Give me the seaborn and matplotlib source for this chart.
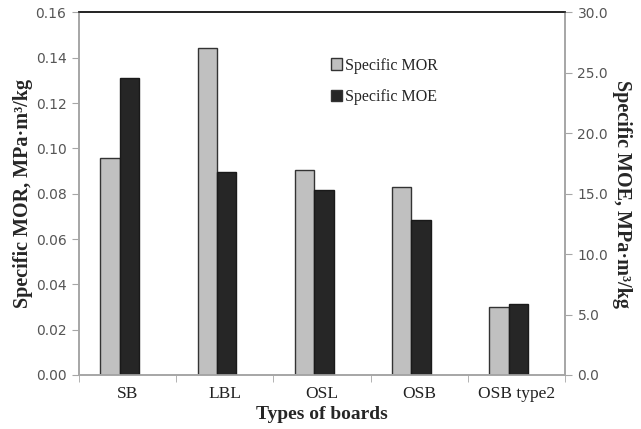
import matplotlib
matplotlib.use("Agg")
import matplotlib.pyplot as plt
import matplotlib.ticker as mticker
from matplotlib.patches import Patch
import pandas as pd
import seaborn as sns

boards = ["SB", "LBL", "OSL", "OSB", "OSB type2"]
spec_mor = [0.0959, 0.1442, 0.0903, 0.0828, 0.0300]
spec_moe = [24.6, 16.8, 15.3, 12.8, 5.9]
series = ["Specific MOR", "Specific MOE"]
colors = ["#c0c0c0", "#262626"]

df = pd.DataFrame({
	"board": boards * 2,
	"series": [series[0]] * len(boards) + [series[1]] * len(boards),
	"value": spec_mor + spec_moe,
})

sns.set_style("white")
serif = "Liberation Serif"
axis_grey = "#a6a6a6"

fig = plt.figure(figsize=(6.41, 4.29), dpi=100)
ax = fig.add_axes([0.1232, 0.1259, 0.8814 - 0.1232, 0.9709 - 0.1259])
ax2 = ax.twinx()

pal = dict(zip(series, colors))
sns.barplot(data=df[df.series == series[0]], x="board", y="value", hue="series",
	hue_order=series, palette=pal, order=boards, width=0.4, gap=0, dodge=True,
	edgecolor="#333333", linewidth=1, legend=False, ax=ax)
sns.barplot(data=df[df.series == series[1]], x="board", y="value", hue="series",
	hue_order=series, palette=pal, order=boards, width=0.4, gap=0, dodge=True,
	edgecolor="#1a1a1a", linewidth=1, legend=False, ax=ax2)

# bar groups sit a little left of the category centres (Excel-style)
shift = 0.08
ax.set_xlim(-0.5 + shift, len(boards) - 0.5 + shift)
ax.set_ylim(0, 0.16)
ax2.set_ylim(0, 30)
ax.yaxis.set_major_locator(mticker.MultipleLocator(0.02))
ax.yaxis.set_major_formatter(mticker.FormatStrFormatter("%.2f"))
ax2.yaxis.set_major_locator(mticker.MultipleLocator(5))
ax2.yaxis.set_major_formatter(mticker.FormatStrFormatter("%.1f"))

# spines
for a in (ax, ax2):
	for s in ("left", "right", "bottom"):
		a.spines[s].set_color(axis_grey)
		a.spines[s].set_linewidth(1.2)
	a.spines["top"].set_color("#222222")
	a.spines["top"].set_linewidth(1.2)

# ticks
ax.tick_params(axis="y", left=True, length=5, color=axis_grey, labelsize=10, labelcolor="#555555", pad=4)
ax2.tick_params(axis="y", right=True, length=5, color=axis_grey, labelsize=10, labelcolor="#555555", pad=4)
ax.set_xticks([i + shift for i in range(len(boards))])
ax.set_xticklabels(boards, fontfamily=serif, fontsize=12.5, color="#222222")
ax.xaxis.set_minor_locator(mticker.FixedLocator([i - 0.5 + shift for i in range(len(boards) + 1)]))
ax.tick_params(axis="x", which="major", length=0, pad=8)
ax.tick_params(axis="x", which="minor", bottom=True, length=5, color=axis_grey)

ax.set_xlabel("Types of boards", fontfamily=serif, fontsize=14, fontweight="bold", labelpad=3)
ax.set_ylabel("Specific MOR, MPa\u00b7m\u00b3/kg", fontfamily=serif, fontsize=14.5, fontweight="bold", labelpad=2)
ax2.set_ylabel("Specific MOE, MPa\u00b7m\u00b3/kg", fontfamily=serif, fontsize=14.5, fontweight="bold",
	rotation=-90, labelpad=17)

handles = [Patch(facecolor=c, edgecolor="#333333", linewidth=1) for c in colors]
leg = ax2.legend(handles, series, loc="upper left", bbox_to_anchor=(0.488, 0.915), frameon=False,
	prop={"family": serif, "size": 11.5}, handlelength=0.7, handleheight=0.7,
	handletextpad=0.2, labelspacing=0.95)

fig.savefig("out.png", dpi=100)
